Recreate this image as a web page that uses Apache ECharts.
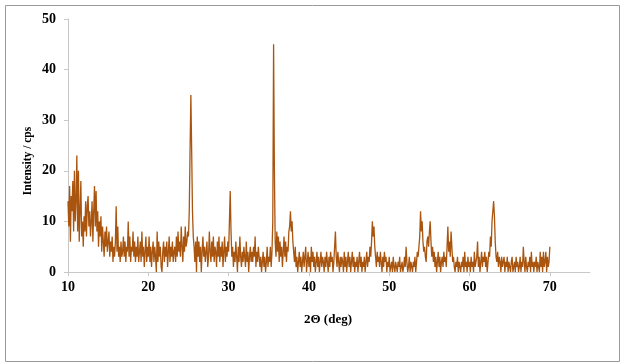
<!DOCTYPE html>
<html>
<head>
<meta charset="utf-8">
<script src="https://cdn.jsdelivr.net/npm/echarts@6/dist/echarts.min.js"></script>
<style>
  html, body { margin: 0; padding: 0; background: #fff; }
  #chart { width: 621px; height: 363px; }
</style>
</head>
<body>
<div id="chart"></div>
<script>
// 2-theta scan: start angle and step (deg)
const twoThetaStart = 10;
const twoThetaStep = 0.1;

// intensity (cps), one array per 5 deg
const seg10 = [14, 9, 17, 6, 15, 12, 18, 8, 20, 10,
               14, 23, 8, 20, 6, 12, 18, 7, 10, 5,
               11, 8, 14, 7, 13, 15, 9, 12, 7, 10,
               14, 6, 12, 17, 9, 16, 8, 12, 5, 10,
               7, 11, 4, 9, 6, 3, 8, 5, 9, 4];
const seg15 = [6, 8, 3, 6, 4, 7, 2, 5, 3, 6,
               13, 4, 9, 3, 5, 2, 6, 3, 4, 7,
               3, 6, 2, 5, 4, 10, 3, 7, 2, 5,
               4, 8, 3, 6, 2, 5, 3, 7, 2, 4,
               6, 2, 8, 3, 5, 1, 4, 7, 2, 5];
const seg20 = [3, 7, 2, 5, 1, 4, 6, 2, 5, 3,
               0, 8, 2, 6, 3, 5, 1, 0, 4, 6,
               2, 5, 3, 6, 1, 4, 7, 2, 5, 3,
               6, 2, 4, 5, 2, 7, 3, 8, 4, 6,
               3, 9, 5, 2, 7, 4, 9, 5, 6, 8];
const seg25 = [7, 12, 24, 35, 24, 12, 7, 5, 2, 6,
               0, 7, 3, 6, 2, 5, 0, 4, 7, 3,
               5, 2, 4, 6, 1, 3, 8, 4, 2, 6,
               3, 7, 2, 5, 4, 1, 6, 3, 7, 2,
               5, 3, 6, 1, 4, 7, 2, 5, 3, 6];
const seg30 = [4, 10, 16, 8, 3, 5, 1, 4, 2, 6,
               3, 0, 5, 2, 7, 3, 1, 4, 2, 5,
               3, 1, 6, 2, 4, 0, 3, 5, 2, 4,
               2, 5, 3, 7, 1, 4, 2, 5, 3, 1,
               3, 0, 2, 4, 1, 3, 0, 2, 5, 1];
const seg35 = [3, 2, 5, 1, 4, 10, 45, 20, 6, 3,
               8, 4, 7, 2, 6, 3, 5, 1, 4, 7,
               3, 6, 2, 5, 4, 8, 9, 12, 8, 10,
               6, 4, 2, 5, 1, 3, 0, 2, 4, 1,
               3, 0, 2, 4, 1, 3, 5, 0, 2, 4];
const seg40 = [1, 3, 0, 5, 2, 4, 1, 3, 0, 2,
               4, 1, 3, 0, 2, 4, 1, 3, 2, 0,
               3, 1, 4, 2, 0, 3, 1, 4, 2, 3,
               0, 2, 5, 8, 3, 1, 4, 2, 0, 3,
               1, 3, 2, 0, 4, 1, 3, 0, 2, 4];
const seg45 = [1, 3, 0, 2, 4, 1, 3, 0, 2, 1,
               3, 0, 2, 4, 1, 3, 0, 2, 1, 3,
               0, 2, 4, 1, 3, 2, 5, 3, 6, 10,
               7, 9, 5, 3, 1, 4, 2, 3, 1, 4,
               2, 0, 3, 1, 4, 2, 3, 0, 2, 1];
const seg50 = [3, 0, 1, 2, 0, 3, 1, 0, 2, 1,
               0, 2, 1, 3, 0, 1, 2, 0, 1, 3,
               1, 5, 2, 0, 1, 3, 0, 2, 1, 0,
               2, 1, 3, 0, 2, 4, 3, 5, 7, 12,
               8, 10, 6, 4, 5, 3, 2, 6, 7, 5];
const seg55 = [8, 10, 6, 3, 5, 2, 4, 1, 3, 0,
               2, 4, 1, 3, 0, 2, 3, 1, 4, 2,
               3, 1, 5, 9, 4, 6, 3, 8, 5, 2,
               3, 1, 0, 2, 1, 3, 0, 2, 1, 0,
               2, 1, 3, 0, 4, 1, 2, 0, 3, 1];
const seg60 = [2, 0, 3, 1, 2, 0, 4, 1, 2, 3,
               6, 1, 3, 0, 2, 4, 1, 3, 2, 4,
               1, 3, 0, 2, 4, 3, 7, 5, 10, 12,
               14, 11, 6, 3, 2, 4, 1, 3, 2, 0,
               3, 1, 2, 3, 0, 2, 1, 3, 0, 2];
const seg65 = [1, 0, 2, 3, 0, 1, 2, 0, 3, 1,
               2, 0, 1, 3, 0, 2, 1, 5, 2, 0,
               3, 1, 0, 2, 1, 3, 0, 4, 1, 2,
               0, 2, 1, 3, 0, 2, 1, 0, 4, 1,
               3, 0, 4, 1, 2, 4, 0, 3, 1, 2,
               5];

const intensity = [].concat(seg10, seg15, seg20, seg25, seg30, seg35,
                            seg40, seg45, seg50, seg55, seg60, seg65);
const points = intensity.map((v, i) => [+(twoThetaStart + i * twoThetaStep).toFixed(1), v]);

const labelFont = {
    fontFamily: 'Liberation Serif',
    fontWeight: 'bold',
    fontSize: 14,
    color: '#000'
};

var chartDom = document.getElementById('chart');
var myChart = echarts.init(chartDom);
var option = {
    animation: false,
    grid: { left: 68, right: 31, top: 19, bottom: 91 },
    xAxis: {
        type: 'value',
        min: 10,
        max: 75,
        interval: 10,
        axisLine: { lineStyle: { color: '#c8c8c8', width: 1 } },
        axisTick: { show: true, length: 4, lineStyle: { color: '#c8c8c8' } },
        axisLabel: Object.assign({ margin: 8, showMaxLabel: false }, labelFont),
        splitLine: { show: false }
    },
    yAxis: {
        type: 'value',
        min: 0,
        max: 50,
        interval: 10,
        axisLine: { show: true, lineStyle: { color: '#c8c8c8', width: 1 } },
        axisTick: { show: true, length: 4, lineStyle: { color: '#c8c8c8' } },
        axisLabel: Object.assign({ margin: 12 }, labelFont),
        splitLine: { show: false }
    },
    graphic: [
        {
            type: 'rect',
            shape: { x: 5.5, y: 5.5, width: 614, height: 356 },
            style: { fill: 'none', stroke: '#9a9a9a', lineWidth: 1 },
            silent: true
        },
        {
            type: 'text',
            x: 28, y: 161,
            rotation: Math.PI / 2,
            style: {
                text: 'Intensity / cps',
                fontFamily: 'Liberation Serif', fontWeight: 'bold', fontSize: 11.5,
                fill: '#000', align: 'center', verticalAlign: 'middle'
            }
        },
        {
            type: 'text',
            x: 328, y: 320,
            style: {
                text: '2Θ (deg)',
                fontFamily: 'Liberation Serif', fontWeight: 'bold', fontSize: 13,
                fill: '#000', align: 'center', verticalAlign: 'middle'
            }
        }
    ],
    series: [
        {
            type: 'line',
            data: points,
            symbol: 'none',
            lineStyle: { color: '#a9550f', width: 1.3 }
        }
    ]
};

option && myChart.setOption(option);
</script>
</body>
</html>
